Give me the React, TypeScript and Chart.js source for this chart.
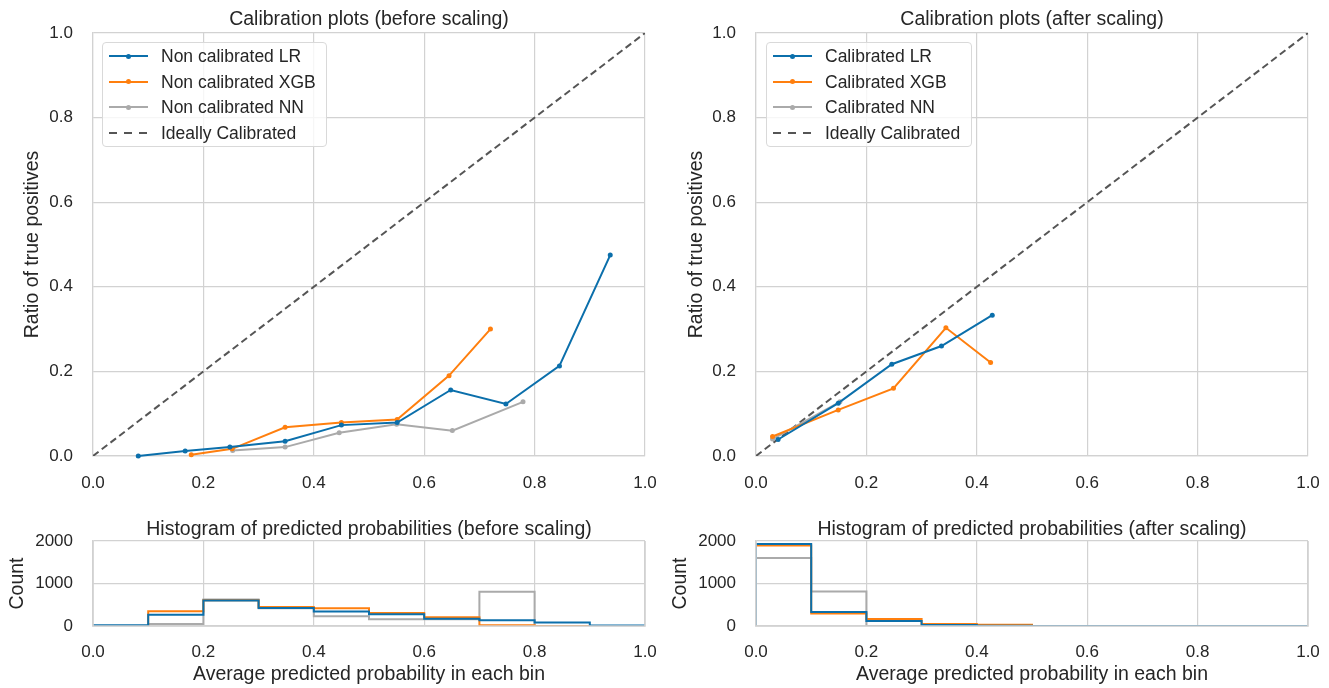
import React, { useEffect, useRef } from "react";
import { Chart, registerables } from "chart.js";

Chart.register(...registerables);

const FONT = "'Liberation Sans', Arial, Helvetica, sans-serif";
const TEXT = "#262626";
const GRID = "#d2d2d2";
const BLUE = "#0b6fab";
const ORANGE = "#ff7f0e";
const GRAY = "#aaaaaa";
const DASH = "#555555";

// ---- Calibration (before scaling) ----
const lrBeforeX = [0.082, 0.167, 0.248, 0.348, 0.45, 0.551, 0.648, 0.748, 0.845, 0.937];
const lrBeforeY = [0.0, 0.012, 0.021, 0.035, 0.073, 0.079, 0.156, 0.123, 0.213, 0.475];
const xgbBeforeX = [0.178, 0.252, 0.348, 0.45, 0.551, 0.645, 0.72];
const xgbBeforeY = [0.003, 0.017, 0.068, 0.079, 0.086, 0.19, 0.3];
const nnBeforeX = [0.253, 0.348, 0.446, 0.55, 0.651, 0.779];
const nnBeforeY = [0.013, 0.021, 0.055, 0.075, 0.06, 0.128];

// ---- Calibration (after scaling) ----
const lrAfterX = [0.04, 0.149, 0.246, 0.336, 0.428];
const lrAfterY = [0.039, 0.125, 0.217, 0.26, 0.333];
const xgbAfterX = [0.03, 0.149, 0.249, 0.344, 0.425];
const xgbAfterY = [0.046, 0.109, 0.16, 0.303, 0.221];
const nnAfterX = [0.03, 0.152];
const nnAfterY = [0.04, 0.128];

const idealLine = [0, 1];

// ---- Histograms (bin counts, bins of width 0.1 from 0 to 1) ----
const binEdges = [0, 0.1, 0.2, 0.3, 0.4, 0.5, 0.6, 0.7, 0.8, 0.9, 1.0];
const lrHistBefore = [15, 265, 600, 425, 340, 276, 170, 134, 80, 10];
const xgbHistBefore = [0, 350, 605, 445, 417, 307, 205, 18, 0, 0];
const nnHistBefore = [0, 50, 625, 415, 228, 157, 160, 805, 0, 0];
const lrHistAfter = [1930, 330, 120, 25, 5, 0, 0, 0, 0, 0];
const xgbHistAfter = [1895, 295, 165, 45, 30, 0, 0, 0, 0, 0];
const nnHistAfter = [1600, 810, 0, 0, 0, 0, 0, 0, 0, 0];

const probTicks = [0, 0.2, 0.4, 0.6, 0.8, 1.0];
const countTicks = [0, 1000, 2000];

function pts(xs: number[], ys: number[]) {
  return xs.map((x, i) => ({ x, y: ys[i] }));
}

function stepPts(counts: number[]) {
  const out: { x: number; y: number }[] = [{ x: binEdges[0], y: 0 }];
  counts.forEach((c, i) => out.push({ x: binEdges[i], y: c }));
  out.push({ x: binEdges[binEdges.length - 1], y: counts[counts.length - 1] });
  out.push({ x: binEdges[binEdges.length - 1], y: 0 });
  return out;
}

function calLine(label: string, xs: number[], ys: number[], color: string) {
  return {
    label,
    data: pts(xs, ys),
    borderColor: color,
    backgroundColor: color,
    borderWidth: 2,
    pointRadius: 2.5,
    pointBorderWidth: 0,
    pointBackgroundColor: color,
    tension: 0,
    clip: false as any,
  };
}

function idealDataset() {
  return {
    label: "Ideally Calibrated",
    data: pts(idealLine, idealLine),
    borderColor: DASH,
    borderWidth: 2,
    borderDash: [7, 4],
    pointRadius: 0,
    tension: 0,
  };
}

function histLine(label: string, counts: number[], color: string) {
  return {
    label,
    data: stepPts(counts),
    borderColor: color,
    borderWidth: 2,
    pointRadius: 0,
    stepped: "before" as const,
    tension: 0,
    clip: 0 as any,
  };
}

// Spines drawn above the data (as in matplotlib, where spines sit over lines)
const spinesOnTop = {
  id: "spinesOnTop",
  afterDatasetsDraw(chart: any) {
    const { ctx, chartArea } = chart;
    ctx.save();
    ctx.strokeStyle = GRID;
    ctx.lineWidth = 1.6;
    ctx.beginPath();
    ctx.moveTo(chartArea.left, chartArea.top);
    ctx.lineTo(chartArea.left, chartArea.bottom);
    ctx.lineTo(chartArea.right, chartArea.bottom);
    ctx.lineTo(chartArea.right, chartArea.top);
    ctx.stroke();
    ctx.restore();
  },
};

type Opts = {
  datasets: any[];
  title: string;
  titlePadTop: number;
  titlePadBottom: number;
  yTitle: string;
  yTitlePad: number;
  yWidth: number;
  xHeight: number;
  xTickPad: number;
  padRight: number;
  xTitle?: string;
  yMax: number;
  yTicks: number[];
  yFmt: (v: number) => string;
  spines?: boolean;
};

function makeConfig(o: Opts): any {
  return {
    type: "line",
    data: { datasets: o.datasets },
    plugins: o.spines ? [spinesOnTop] : [],
    options: {
      animation: false,
      responsive: false,
      devicePixelRatio: 1,
      events: [],
      layout: { padding: { left: 0, right: o.padRight, top: 0, bottom: 0 } },
      plugins: {
        legend: { display: false },
        tooltip: { enabled: false },
        title: {
          display: true,
          text: o.title,
          fullSize: false,
          color: TEXT,
          font: { family: FONT, size: 19.5, weight: "normal", lineHeight: 1.1 },
          padding: { top: o.titlePadTop, bottom: o.titlePadBottom },
        },
      },
      scales: {
        x: {
          type: "linear",
          min: 0,
          max: 1,
          afterBuildTicks: (scale: any) => {
            scale.ticks = probTicks.map((v) => ({ value: v }));
          },
          afterFit: (scale: any) => {
            scale.height = o.xHeight;
            scale.paddingLeft = 0;
            scale.paddingRight = 0;
          },
          grid: { color: GRID, lineWidth: 1.2, drawTicks: false },
          border: { color: GRID, width: 1.2 },
          ticks: {
            color: TEXT,
            padding: o.xTickPad,
            maxRotation: 0,
            font: { family: FONT, size: 17 },
            callback: (v: any) => Number(v).toFixed(1),
          },
          title: o.xTitle
            ? {
                display: true,
                text: o.xTitle,
                color: TEXT,
                font: { family: FONT, size: 19.5, lineHeight: 1.2 },
                padding: { top: 0, bottom: 1.3 },
              }
            : { display: false },
        },
        y: {
          type: "linear",
          min: 0,
          max: o.yMax,
          afterBuildTicks: (scale: any) => {
            scale.ticks = o.yTicks.map((v) => ({ value: v }));
          },
          afterFit: (scale: any) => {
            scale.width = o.yWidth;
            scale.paddingTop = 0;
            scale.paddingBottom = 0;
          },
          grid: { color: GRID, lineWidth: 1.2, drawTicks: false },
          border: { color: GRID, width: 1.2 },
          ticks: {
            color: TEXT,
            padding: 20,
            font: { family: FONT, size: 17 },
            callback: (v: any) => o.yFmt(Number(v)),
          },
          title: {
            display: true,
            text: o.yTitle,
            color: TEXT,
            font: { family: FONT, size: 19.5, lineHeight: 1.2 },
            padding: { top: o.yTitlePad, bottom: 0 },
          },
        },
      },
    },
  };
}

function ChartBox(props: { left: number; top: number; width: number; height: number; config: any }) {
  const ref = useRef<HTMLCanvasElement | null>(null);
  useEffect(() => {
    if (!ref.current) return;
    const chart = new Chart(ref.current, props.config);
    return () => chart.destroy();
  }, []);
  return (
    <canvas
      ref={ref}
      width={props.width}
      height={props.height}
      style={{
        position: "absolute",
        left: props.left,
        top: props.top,
        width: props.width,
        height: props.height,
      }}
    />
  );
}

type LegendItem = { label: string; color: string; dashed?: boolean };

function Legend(props: { left: number; top: number; width: number; items: LegendItem[] }) {
  return (
    <div
      style={{
        position: "absolute",
        left: props.left,
        top: props.top,
        width: props.width,
        height: 105,
        border: "1px solid #d9d9d9",
        borderRadius: 4,
        background: "rgba(255,255,255,0.8)",
        boxSizing: "border-box",
        fontFamily: FONT,
        fontSize: 17.5,
        color: TEXT,
      }}
    >
      {props.items.map((it, i) => (
        <div
          key={i}
          style={{
            position: "absolute",
            left: 0,
            top: 13 + i * 25.5 - 12,
            height: 24,
            width: "100%",
          }}
        >
          <div
            style={{
              position: "absolute",
              left: 6,
              top: 11,
              width: 39,
              height: 2,
              background: it.dashed
                ? `repeating-linear-gradient(to right, ${it.color} 0 8px, transparent 8px 15px)`
                : it.color,
            }}
          />
          {!it.dashed && (
            <div
              style={{
                position: "absolute",
                left: 23,
                top: 9.5,
                width: 5,
                height: 5,
                borderRadius: 3,
                background: it.color,
              }}
            />
          )}
          <div
            style={{
              position: "absolute",
              left: 58,
              top: 0,
              lineHeight: "24px",
              whiteSpace: "nowrap",
            }}
          >
            {it.label}
          </div>
        </div>
      ))}
    </div>
  );
}

const fmt1 = (v: number) => v.toFixed(1);
const fmt0 = (v: number) => String(Math.round(v));

export default function App() {
  const topLeft = makeConfig({
    datasets: [
      calLine("Non calibrated LR", lrBeforeX, lrBeforeY, BLUE),
      calLine("Non calibrated XGB", xgbBeforeX, xgbBeforeY, ORANGE),
      calLine("Non calibrated NN", nnBeforeX, nnBeforeY, GRAY),
      idealDataset(),
    ],
    title: "Calibration plots (before scaling)",
    titlePadTop: 8.8,
    titlePadBottom: 2.75,
    yTitle: "Ratio of true positives",
    yTitlePad: 21.3,
    yWidth: 93,
    xHeight: 44,
    xTickPad: 17.5,
    padRight: 20,
    yMax: 1,
    yTicks: probTicks,
    yFmt: fmt1,
  });
  const topRight = makeConfig({
    datasets: [
      calLine("Calibrated LR", lrAfterX, lrAfterY, BLUE),
      calLine("Calibrated XGB", xgbAfterX, xgbAfterY, ORANGE),
      calLine("Calibrated NN", nnAfterX, nnAfterY, GRAY),
      idealDataset(),
    ],
    title: "Calibration plots (after scaling)",
    titlePadTop: 8.8,
    titlePadBottom: 2.75,
    yTitle: "Ratio of true positives",
    yTitlePad: 20.3,
    yWidth: 91,
    xHeight: 44,
    xTickPad: 17.5,
    padRight: 21,
    yMax: 1,
    yTicks: probTicks,
    yFmt: fmt1,
  });
  const botLeft = makeConfig({
    datasets: [
      histLine("LR", lrHistBefore, BLUE),
      histLine("XGB", xgbHistBefore, ORANGE),
      histLine("NN", nnHistBefore, GRAY),
    ],
    title: "Histogram of predicted probabilities (before scaling)",
    titlePadTop: 19.3,
    titlePadBottom: 0.25,
    yTitle: "Count",
    yTitlePad: 5.8,
    yWidth: 93,
    xHeight: 62,
    xTickPad: 16.5,
    padRight: 20,
    xTitle: "Average predicted probability in each bin",
    yMax: 2000,
    yTicks: countTicks,
    yFmt: fmt0,
    spines: true,
  });
  const botRight = makeConfig({
    datasets: [
      histLine("LR", lrHistAfter, BLUE),
      histLine("XGB", xgbHistAfter, ORANGE),
      histLine("NN", nnHistAfter, GRAY),
    ],
    title: "Histogram of predicted probabilities (after scaling)",
    titlePadTop: 19.3,
    titlePadBottom: 0.25,
    yTitle: "Count",
    yTitlePad: 4.3,
    yWidth: 91,
    xHeight: 62,
    xTickPad: 16.5,
    padRight: 21,
    xTitle: "Average predicted probability in each bin",
    yMax: 2000,
    yTicks: countTicks,
    yFmt: fmt0,
    spines: true,
  });

  return (
    <div
      style={{
        position: "absolute",
        left: 0,
        top: 0,
        width: 1329,
        height: 688,
        background: "#ffffff",
        overflow: "hidden",
      }}
    >
      <ChartBox left={0} top={0} width={665} height={500} config={topLeft} />
      <ChartBox left={665} top={0} width={664} height={500} config={topRight} />
      <ChartBox left={0} top={500} width={665} height={188} config={botLeft} />
      <ChartBox left={665} top={500} width={664} height={188} config={botRight} />
      <Legend
        left={102}
        top={42}
        width={225}
        items={[
          { label: "Non calibrated LR", color: BLUE },
          { label: "Non calibrated XGB", color: ORANGE },
          { label: "Non calibrated NN", color: GRAY },
          { label: "Ideally Calibrated", color: DASH, dashed: true },
        ]}
      />
      <Legend
        left={766}
        top={42}
        width={206}
        items={[
          { label: "Calibrated LR", color: BLUE },
          { label: "Calibrated XGB", color: ORANGE },
          { label: "Calibrated NN", color: GRAY },
          { label: "Ideally Calibrated", color: DASH, dashed: true },
        ]}
      />
    </div>
  );
}
